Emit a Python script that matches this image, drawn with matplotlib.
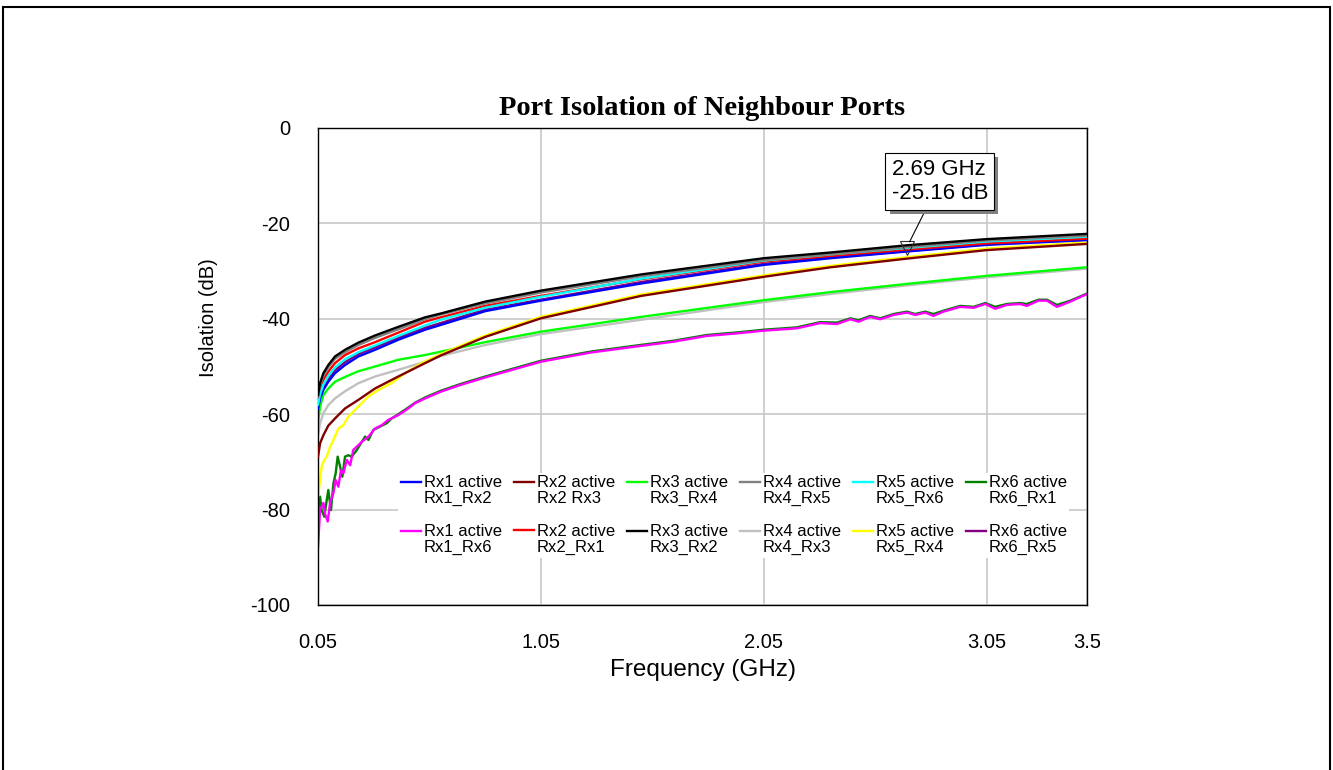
import matplotlib
matplotlib.use("Agg")
import matplotlib.pyplot as plt
import matplotlib.patheffects as pe
from matplotlib.patches import Rectangle
from matplotlib.legend_handler import HandlerLine2D

plt.rcParams['font.family'] = ['Liberation Sans', 'DejaVu Sans']
plt.rcParams['axes.unicode_minus'] = False

# --- frequency grid (GHz) shared by the smooth traces
freq_lo = [0.05, 0.059, 0.074, 0.096, 0.126, 0.171, 0.231, 0.306, 0.41, 0.53]
freq_hi = [0.6, 0.8, 1.05, 1.5, 2.05, 2.35, 2.69, 3.05, 3.5]
freq = freq_lo + freq_hi

# --- isolation traces (dB)
rx1_rx2 = [-58.8, -56.7, -54.9, -53.2, -51.4, -49.7, -47.9, -46.5, -44.4, -42.3,
           -41.3, -38.4, -36.2, -32.6, -28.7, -27.3, -25.9, -24.5, -23.5]
rx2_rx3 = [-68.9, -66.1, -64.4, -62.4, -60.9, -58.8, -57.0, -54.6, -52.1, -49.3,
           -47.7, -43.8, -39.9, -35.2, -31.2, -29.2, -27.4, -25.6, -24.3]
rx3_rx4 = [-61.6, -58.4, -56.0, -54.6, -53.2, -52.2, -51.0, -50.0, -48.6, -47.6,
           -46.9, -44.9, -42.7, -39.6, -36.1, -34.4, -32.7, -31.0, -29.2]
rx4_rx5 = [-56.5, -54.0, -51.9, -50.2, -48.4, -47.0, -45.5, -44.0, -42.2, -40.1,
           -39.1, -36.8, -34.5, -31.1, -27.7, -26.5, -25.0, -23.6, -22.6]
rx5_rx6 = [-58.0, -55.8, -53.8, -52.0, -50.2, -48.5, -47.0, -45.6, -43.6, -41.4,
           -40.2, -37.7, -35.4, -31.6, -27.8, -26.5, -25.16, -23.8, -22.8]
rx2_rx1 = [-57.4, -54.9, -52.8, -51.1, -49.3, -47.6, -46.2, -44.9, -42.9, -40.6,
           -39.7, -37.3, -35.2, -31.7, -28.0, -26.8, -25.5, -24.2, -23.2]
rx3_rx2 = [-56.0, -53.5, -51.4, -49.7, -47.9, -46.5, -45.0, -43.5, -41.7, -39.7,
           -38.9, -36.4, -34.1, -30.7, -27.3, -26.1, -24.6, -23.3, -22.2]
rx4_rx3 = [-64.4, -61.9, -59.8, -58.1, -56.7, -55.2, -53.5, -52.1, -50.7, -49.0,
           -47.8, -45.5, -43.2, -40.2, -36.5, -34.8, -33.0, -31.3, -29.5]
rx6_rx5 = [-58.5, -56.2, -54.3, -52.6, -50.8, -49.1, -47.4, -46.0, -44.0, -41.9,
           -40.9, -38.1, -36.0, -32.3, -28.5, -27.1, -25.8, -24.4, -23.4]

# Rx5_Rx4 is noisier at the low end, own grid
freq_rx5_rx4 = [0.05, 0.059, 0.066, 0.078, 0.089, 0.104, 0.119, 0.141, 0.164, 0.186,
                0.216, 0.246, 0.276, 0.321, 0.38, 0.44, 0.515,
                0.6, 0.8, 1.05, 1.5, 2.05, 2.35, 2.69, 3.05, 3.5]
rx5_rx4 = [-77.3, -73.8, -71.0, -69.6, -68.9, -66.8, -65.4, -63.0, -62.3, -60.5,
           -59.1, -57.7, -56.3, -54.9, -53.5, -51.4, -49.3,
           -47.4, -43.5, -39.6, -34.9, -30.9, -28.9, -27.1, -25.3, -24.0]

# Rx1_Rx6 / Rx6_Rx1: lowest pair with ripple
freq_rx1_rx6 = [0.05, 0.059, 0.074, 0.081, 0.0935, 0.104, 0.119, 0.129, 0.141, 0.153,
                0.1635, 0.179, 0.194, 0.208, 0.224, 0.246, 0.276, 0.306, 0.336, 0.365,
                0.41, 0.455, 0.485, 0.53, 0.6, 0.687, 0.8, 1.05, 1.27, 1.495,
                1.645, 1.794, 1.944, 2.048, 2.198, 2.303, 2.378, 2.438, 2.475, 2.527,
                2.572, 2.632, 2.692, 2.729, 2.774, 2.811, 2.856, 2.931, 2.991, 3.043,
                3.088, 3.14, 3.2, 3.23, 3.282, 3.32, 3.365, 3.425, 3.5]
rx1_rx6 = [-87.8, -80.1, -78.6, -80.8, -82.5, -78.6, -76.5, -73.8, -75.2, -71.7,
           -72.4, -69.6, -70.7, -67.5, -66.8, -65.8, -64.7, -63.0, -62.3, -61.2,
           -60.2, -58.8, -57.7, -56.7, -55.3, -53.9, -52.3, -49.0, -47.1, -45.7,
           -44.8, -43.6, -43.0, -42.5, -42.0, -40.9, -41.1, -40.1, -40.6, -39.6,
           -40.1, -39.2, -38.7, -39.2, -38.7, -39.4, -38.5, -37.5, -37.7, -36.9,
           -37.9, -37.1, -36.9, -37.3, -36.2, -36.2, -37.5, -36.4, -34.8]

freq_rx6_rx1 = [0.05, 0.059, 0.066, 0.078, 0.089, 0.096, 0.108, 0.119, 0.129, 0.138,
                0.149, 0.159, 0.171, 0.186, 0.201, 0.224, 0.261, 0.276, 0.298, 0.328,
                0.358, 0.38, 0.41, 0.455, 0.485, 0.53, 0.6, 0.687, 0.8, 1.05,
                1.27, 1.495, 1.645, 1.794, 1.944, 2.048, 2.198, 2.303, 2.378, 2.438,
                2.475, 2.527, 2.572, 2.632, 2.692, 2.729, 2.774, 2.811, 2.856, 2.931,
                2.991, 3.043, 3.088, 3.14, 3.2, 3.23, 3.282, 3.32, 3.365, 3.425, 3.5]
rx6_rx1 = [-80.5, -77.3, -80.1, -81.5, -78.0, -75.9, -80.1, -74.5, -72.4, -68.9,
           -71.0, -73.1, -68.9, -68.6, -68.9, -67.5, -64.7, -65.4, -63.3, -62.6,
           -61.9, -60.9, -60.0, -58.6, -57.6, -56.5, -55.1, -53.7, -52.1, -48.8,
           -46.9, -45.5, -44.6, -43.4, -42.8, -42.3, -41.8, -40.7, -40.8, -39.9,
           -40.3, -39.4, -39.9, -39.0, -38.5, -39.0, -38.5, -39.0, -38.3, -37.3,
           -37.5, -36.7, -37.5, -36.9, -36.7, -36.9, -36.0, -36.0, -37.1, -36.2, -34.7]

# marker readout
marker_f = 2.69
marker_db = -25.16

# legend entries, listed column by column (matplotlib fills legends column-major)
# last field is the stacking order of the trace
series = [
    ("Rx1 active\nRx1_Rx2", freq, rx1_rx2, "#0000ff", 8),
    ("Rx1 active\nRx1_Rx6", freq_rx1_rx6, rx1_rx6, "#ff00ff", 2),
    ("Rx2 active\nRx2 Rx3", freq, rx2_rx3, "#800000", 6),
    ("Rx2 active\nRx2_Rx1", freq, rx2_rx1, "#ff0000", 9),
    ("Rx3 active\nRx3_Rx4", freq, rx3_rx4, "#00ff00", 4),
    ("Rx3 active\nRx3_Rx2", freq, rx3_rx2, "#000000", 12),
    ("Rx4 active\nRx4_Rx5", freq, rx4_rx5, "#808080", 11),
    ("Rx4 active\nRx4_Rx3", freq, rx4_rx3, "#c0c0c0", 3),
    ("Rx5 active\nRx5_Rx6", freq, rx5_rx6, "#00ffff", 10),
    ("Rx5 active\nRx5_Rx4", freq_rx5_rx4, rx5_rx4, "#ffff00", 5),
    ("Rx6 active\nRx6_Rx1", freq_rx6_rx1, rx6_rx1, "#008000", 1),
    ("Rx6 active\nRx6_Rx5", freq, rx6_rx5, "#800080", 7),
]


class FirstLineHandler(HandlerLine2D):
    # legend swatch sits next to the first line of a two-line label
    def create_artists(self, legend, orig_handle, xdescent, ydescent, width, height,
                       fontsize, trans):
        arts = super().create_artists(legend, orig_handle, xdescent, ydescent, width,
                                      height, fontsize, trans)
        for a in arts:
            a.set_ydata([y + 0.55 * fontsize for y in a.get_ydata()])
        return arts


fig = plt.figure(figsize=(13.33, 7.70), dpi=100)
ax = fig.add_axes([0.2386, 0.2143, 0.5769, 0.6195])

handles = []
for label, f, db, col, z in series:
    h, = ax.plot(f, db, color=col, lw=1.7, label=label, zorder=2 + z * 0.1)
    handles.append(h)

ax.set_xlim(0.05, 3.5)
ax.set_ylim(-100, 0)
ax.set_xticks([0.05, 1.05, 2.05, 3.05, 3.5])
ax.set_xticklabels(["0.05", "1.05", "2.05", "3.05", "3.5"])
ax.set_yticks([0, -20, -40, -60, -80, -100])
ax.tick_params(length=0, labelsize=14.5)
ax.tick_params(axis='x', pad=20)
ax.tick_params(axis='y', pad=20)
ax.grid(True, color="#c8c8c8", lw=1.2)
ax.set_axisbelow(True)
for s in ax.spines.values():
    s.set_color("black")
    s.set_linewidth(1.0)

ax.set_xlabel("Frequency (GHz)", fontsize=17.5, labelpad=5)
ax.set_ylabel("Isolation (dB)", fontsize=14.5)
ax.yaxis.set_label_coords(-0.13, 0.602)
ax.set_title("Port Isolation of Neighbour Ports", fontsize=20.5, fontweight="bold",
             family=["Liberation Serif", "DejaVu Serif"], pad=9)

leg = ax.legend(handles=handles, ncol=6, loc="upper left", bbox_to_anchor=(0.104, 0.277),
                fontsize=12, frameon=True, framealpha=1, facecolor="white",
                edgecolor="none", borderpad=0.15, borderaxespad=0, handlelength=1.2,
                handletextpad=0.2, columnspacing=0.7, labelspacing=1.05, fancybox=False,
                handler_map={plt.Line2D: FirstLineHandler()})
for t in leg.get_texts():
    t.set_linespacing(1.08)
leg.set_zorder(20)

# marker and its readout box
ax.plot([marker_f], [marker_db], marker="v", ms=10, mfc="none", mec="#303030",
        mew=0.8, zorder=25)
ann = ax.annotate("%.2f GHz\n%.2f dB" % (marker_f, marker_db), xy=(marker_f, marker_db),
                  xytext=(24, 48), textcoords="offset points", ha="center", va="center",
                  multialignment="left", fontsize=16, zorder=30,
                  bbox=dict(boxstyle="square,pad=0.28", fc="white", ec="black", lw=0.8),
                  arrowprops=dict(arrowstyle="-", color="black", lw=0.8,
                                  shrinkA=0, shrinkB=5))
ann.get_bbox_patch().set_path_effects([
    pe.SimplePatchShadow(offset=(3, -3), shadow_rgbFace="#808080", alpha=1.0),
    pe.Normal()])

# outer frame of the sheet
fig.add_artist(Rectangle((3 / 1333, -0.05), 1327 / 1333, 1 - 7 / 770 + 0.05,
                         transform=fig.transFigure, fill=False, ec="black", lw=1.5,
                         clip_on=False))

fig.savefig("out.png", dpi=100)
